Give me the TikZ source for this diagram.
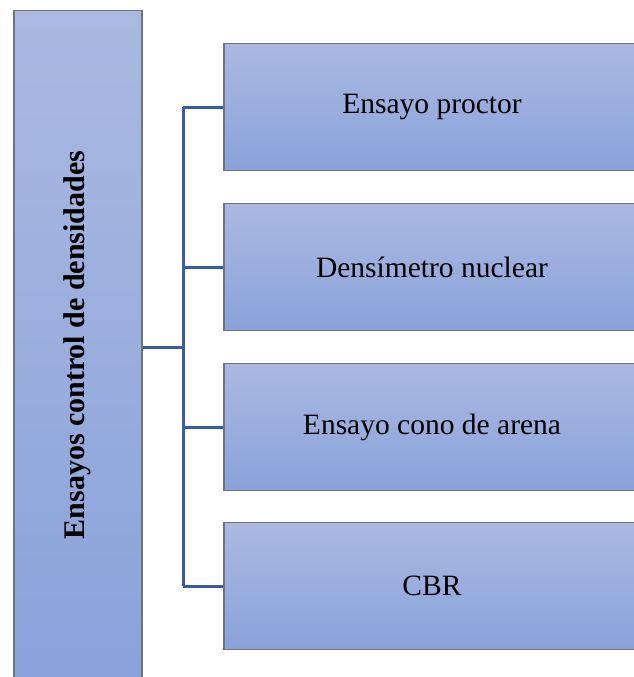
\documentclass[tikz,border=0pt]{standalone}
\usepackage{fontspec}
\setmainfont{Liberation Serif}
\definecolor{boxtop}{HTML}{AAB9E1}
\definecolor{boxbot}{HTML}{8AA2DA}
\definecolor{boxline}{HTML}{6E7380}
\definecolor{linkblue}{HTML}{3A5BA3}
\begin{document}
\begin{tikzpicture}[
 x=1pt,y=-1pt,
 box/.style={draw=boxline,line width=1.5pt,top color=boxtop,bottom color=boxbot},
 mainbox/.style={box,minimum width=128,minimum height=680,anchor=north west,inner sep=0pt},
 itembox/.style={box,minimum width=416,minimum height=127,inner sep=0pt},
 link/.style={draw=linkblue,line width=3pt},
 every node/.style={font=\fontsize{29.5}{35}\selectfont}]
 \clip (0,0) rectangle (634,677);
 \useasboundingbox (0,0) rectangle (634,677);
 % title column
 \node[mainbox] (main) at (13,10){};
 \node[rotate=90,font=\fontsize{30}{35}\selectfont\bfseries] (title) at (77,345){Ensayos control de densidades};
 % test boxes
 \foreach \i/\yc/\txt in {1/107/Ensayo proctor,2/267/Densímetro nuclear,3/427/Ensayo cono de arena,4/586/CBR}{
  \node[itembox] (item\i) at (432,\yc){\txt};
 }
 % connectors
 \coordinate (hub) at (183,347);
 \draw[link] (main.east |- hub) -- (hub);
 \draw[link] (hub |- item1.west) -- (hub |- item4.west);
 \foreach \i in {1,...,4}{
  \draw[link] (hub |- item\i.west) -- (item\i.west);
 }
\end{tikzpicture}
\end{document}
